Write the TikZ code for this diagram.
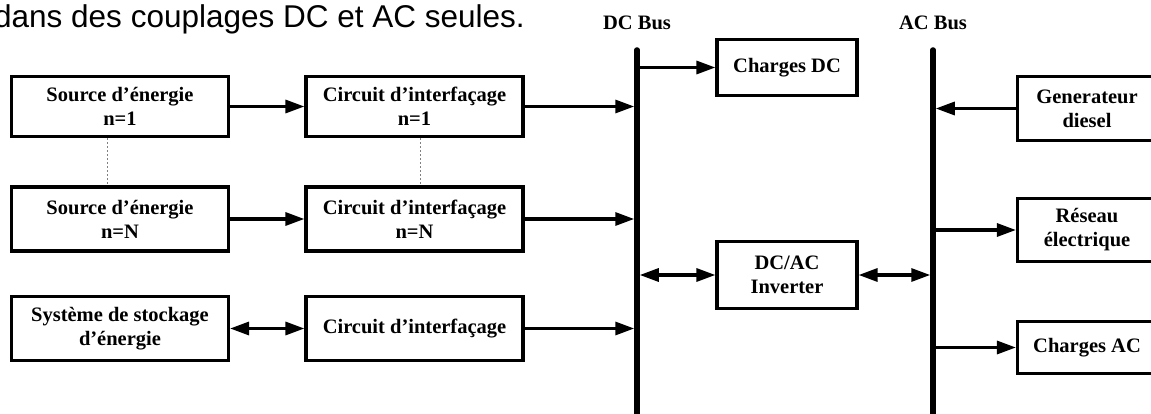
\documentclass[tikz,border=0pt]{standalone}
\usepackage{fontspec}
\setmainfont{Liberation Serif}
\newfontfamily\arialf{Liberation Sans}
\usetikzlibrary{arrows.meta}
\begin{document}
\begin{tikzpicture}[x=1pt,y=-1pt,
  box/.style={draw=black, line width=3.2pt, inner sep=0pt, align=center,
    font=\bfseries\fontsize{20.5}{24}\selectfont},
  arr/.style={line width=3.2pt, -{Triangle[length=19pt,width=13pt]}},
  darr/.style={line width=3.2pt, {Triangle[length=19pt,width=13pt]}-{Triangle[length=19pt,width=13pt]}},
  bus/.style={line width=5.5pt, line cap=round},
  busl/.style={inner sep=0pt, font=\bfseries\fontsize{20.5}{24}\selectfont},
  dots/.style={draw=gray, line width=1pt, dash pattern=on 2pt off 2pt}]
\useasboundingbox (0,0) rectangle (1151,414);

\node[anchor=base west, inner sep=0pt, font=\arialf\fontsize{31.5}{36}\selectfont] (title) at (-6,28) {dans des couplages DC et AC seules.};

% left column
\node[box, minimum width=217pt, minimum height=60pt] (s1) at (120,106.5) {Source d’énergie\\n=1};
\node[box, minimum width=217pt, minimum height=64pt] (sN) at (120,219) {Source d’énergie\\n=N};
\node[box, minimum width=217pt, minimum height=64pt] (st) at (120,328.5) {Système de stockage\\d’énergie};
\node[box, minimum width=217pt, minimum height=60pt] (c1) at (414.5,106.5) {Circuit d’interfaçage\\n=1};
\node[box, minimum width=217pt, minimum height=64pt] (cN) at (414.5,219) {Circuit d’interfaçage\\n=N};
\node[box, minimum width=217pt, minimum height=64pt] (c3) at (414.5,328.5) {Circuit d’interfaçage};

% middle
\node[box, minimum width=140pt, minimum height=56pt] (cdc) at (787,67.5) {Charges DC};
\node[box, minimum width=140pt, minimum height=67pt] (inv) at (787,275) {DC/AC\\Inverter};

% right
\node[box, minimum width=139pt, minimum height=64pt] (gen) at (1087,108.5) {Generateur\\diesel};
\node[box, minimum width=139pt, minimum height=63pt] (res) at (1087,230) {Réseau\\électrique};
\node[box, minimum width=139pt, minimum height=52pt] (cac) at (1087,347.5) {Charges AC};

% buses
\coordinate (dct) at (637,50);
\coordinate (dcb) at (637,430);
\coordinate (act) at (933,50);
\coordinate (acb) at (933,430);
\node[busl, anchor=base] (dcl) at (637,30) {DC Bus};
\node[busl, anchor=base] (acl) at (933,30) {AC Bus};

% dotted links
\draw[dots] ([xshift=-13pt]s1.south) -- ([xshift=-13pt]sN.north);
\draw[dots] ([xshift=6pt]c1.south) -- ([xshift=6pt]cN.north);

% arrows
\draw[arr] (s1) -- (c1);
\draw[arr] (sN) -- (cN);
\draw[darr] (st) -- (c3);
\draw[arr, shorten >=2.75pt] (c1.east) -- (c1.east -| dct);
\draw[arr, shorten >=2.75pt] (cN.east) -- (cN.east -| dct);
\draw[arr, shorten >=2.75pt] (c3.east) -- (c3.east -| dct);
\draw[arr] (cdc.west -| dct) -- (cdc.west);
\draw[darr, shorten <=2.75pt] (inv.west -| dct) -- (inv.west);
\draw[darr, shorten >=2.75pt] (inv.east) -- (inv.east -| act);
\draw[arr, shorten >=2.75pt] (gen.west) -- (gen.west -| act);
\draw[arr] (res.west -| act) -- (res.west);
\draw[arr] (cac.west -| act) -- (cac.west);

\draw[bus] (dct) -- (dcb);
\draw[bus] (act) -- (acb);
\end{tikzpicture}
\end{document}
